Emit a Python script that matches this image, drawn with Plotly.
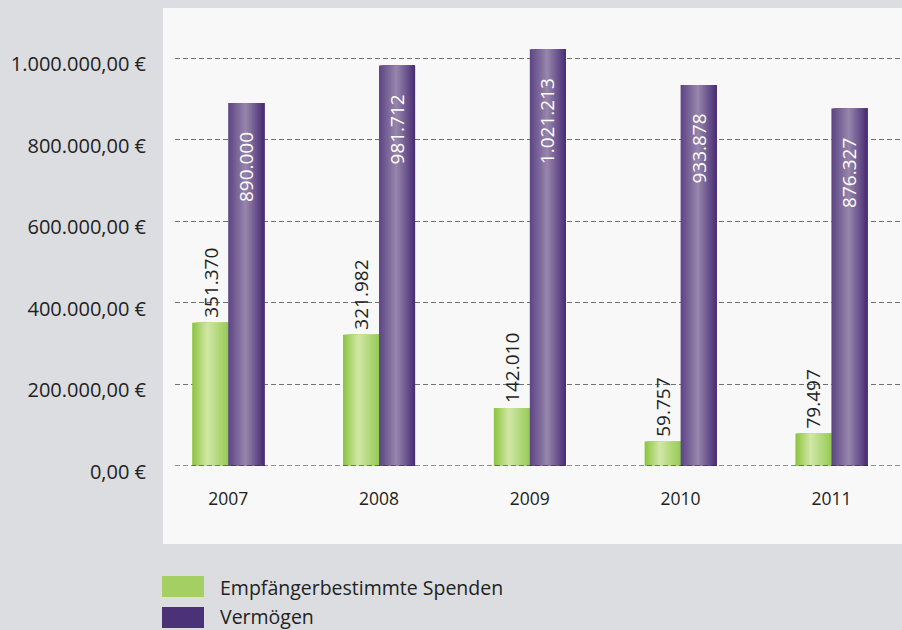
import plotly.graph_objects as go

years = ["2007", "2008", "2009", "2010", "2011"]
spenden = [351370, 321982, 142010, 59757, 79497]
vermoegen = [890000, 981712, 1021213, 933878, 876327]
series_names = ["Empfängerbestimmte Spenden", "Vermögen"]
y_ticks = [0, 200000, 400000, 600000, 800000, 1000000]
y_tick_labels = ["0,00 €", "200.000,00 €", "400.000,00 €", "600.000,00 €", "800.000,00 €", "1.000.000,00 €"]

W, H = 902, 630
L, R, T, B = 175, 0, 8, 164
PW, PH = W - L - R, H - T - B

def px_x(p):
    return (p - L) / PW

def px_y(p):
    return (H - B - p) / PH

FONT = "Open Sans"
BAR_W = 0.2387
N = 24

green_stops = [(0.0, (138, 196, 60)), (0.42, (210, 231, 168)), (1.0, (150, 203, 84))]
purple_stops = [(0.0, (92, 68, 132)), (0.48, (152, 134, 172)), (1.0, (72, 45, 116))]

def interp(stops, t):
    for (t0, c0), (t1, c1) in zip(stops[:-1], stops[1:]):
        if t <= t1:
            f = (t - t0) / (t1 - t0)
            c = [round(a + (b - a) * f) for a, b in zip(c0, c1)]
            return f"rgb({c[0]},{c[1]},{c[2]})"
    c = stops[-1][1]
    return f"rgb({c[0]},{c[1]},{c[2]})"

xs = list(range(len(years)))
fig = go.Figure()

for vals, stops, base in [(spenden, green_stops, -BAR_W), (vermoegen, purple_stops, 0.0)]:
    sw = BAR_W / N
    for k in range(N):
        fig.add_trace(go.Bar(
            x=xs, y=vals, width=BAR_W - k * sw, offset=base + k * sw,
            marker=dict(color=interp(stops, (k + 0.5) / N), line=dict(width=0)),
            showlegend=False, hoverinfo="skip",
        ))

def fmt(v):
    return f"{v:,}".replace(",", ".")

LABEL_SIZE = 19
annotations = []
for i, v in enumerate(spenden):
    annotations.append(dict(x=i - BAR_W / 2, y=v, xref="x", yref="y", text=fmt(v),
                            textangle=-90, showarrow=False, yanchor="bottom", xanchor="center",
                            yshift=3, font=dict(family=FONT, size=LABEL_SIZE, color="#222222")))
for i, v in enumerate(vermoegen):
    annotations.append(dict(x=i + BAR_W / 2, y=v, xref="x", yref="y", text=fmt(v),
                            textangle=-90, showarrow=False, yanchor="top", xanchor="center",
                            yshift=-27, font=dict(family=FONT, size=LABEL_SIZE, color="#ffffff")))

legend_colors = ["#a4cf62", "#4b3177"]
legend_rows = [(576, 597, 587), (607, 628, 616)]
shapes = [dict(type="rect", xref="paper", yref="paper", x0=px_x(163), x1=px_x(902),
               y0=px_y(544), y1=px_y(8), fillcolor="#f8f8f8", line=dict(width=0), layer="below")]
for name, col, (t0, t1, tc) in zip(series_names, legend_colors, legend_rows):
    shapes.append(dict(type="rect", xref="paper", yref="paper", x0=px_x(162), x1=px_x(204),
                       y0=px_y(t1), y1=px_y(t0), fillcolor=col, line=dict(width=0)))
    annotations.append(dict(x=px_x(218), y=px_y(tc), xref="paper", yref="paper", text=name,
                            showarrow=False, xanchor="left", yanchor="middle",
                            font=dict(family=FONT, size=19.5, color="#222222")))
shapes.append(dict(type="line", xref="paper", yref="y", x0=0, x1=1, y0=0, y1=0,
                   line=dict(color="#222222", width=1.2, dash="5px,3px")))

fig.update_layout(
    width=W, height=H, margin=dict(l=L, r=R, t=T, b=B, pad=0),
    paper_bgcolor="#dcdde0", plot_bgcolor="rgba(0,0,0,0)",
    barmode="overlay", showlegend=False,
    font=dict(family=FONT, color="#222222"),
    xaxis=dict(range=[-0.3528, 4.468], tickvals=xs, ticktext=years, showgrid=False,
               zeroline=False, showline=False, ticks="", ticklabelstandoff=20,
               tickfont=dict(family=FONT, size=17.5, color="#222222"), fixedrange=True),
    yaxis=dict(range=[0, 1e6 * 458 / 408], tickvals=y_ticks, ticktext=y_tick_labels,
               showgrid=True, gridcolor="#6f6f6f", griddash="5px,3px", gridwidth=1,
               zeroline=False, showline=False, ticks="", ticklabelstandoff=28, ticklabelshift=6,
               tickfont=dict(family=FONT, size=20, color="#222222"), fixedrange=True),
    shapes=shapes, annotations=annotations,
)

fig.write_html("out.html", config={"displayModeBar": False},
               post_script="document.body.style.margin='0';document.body.style.overflow='hidden';")
